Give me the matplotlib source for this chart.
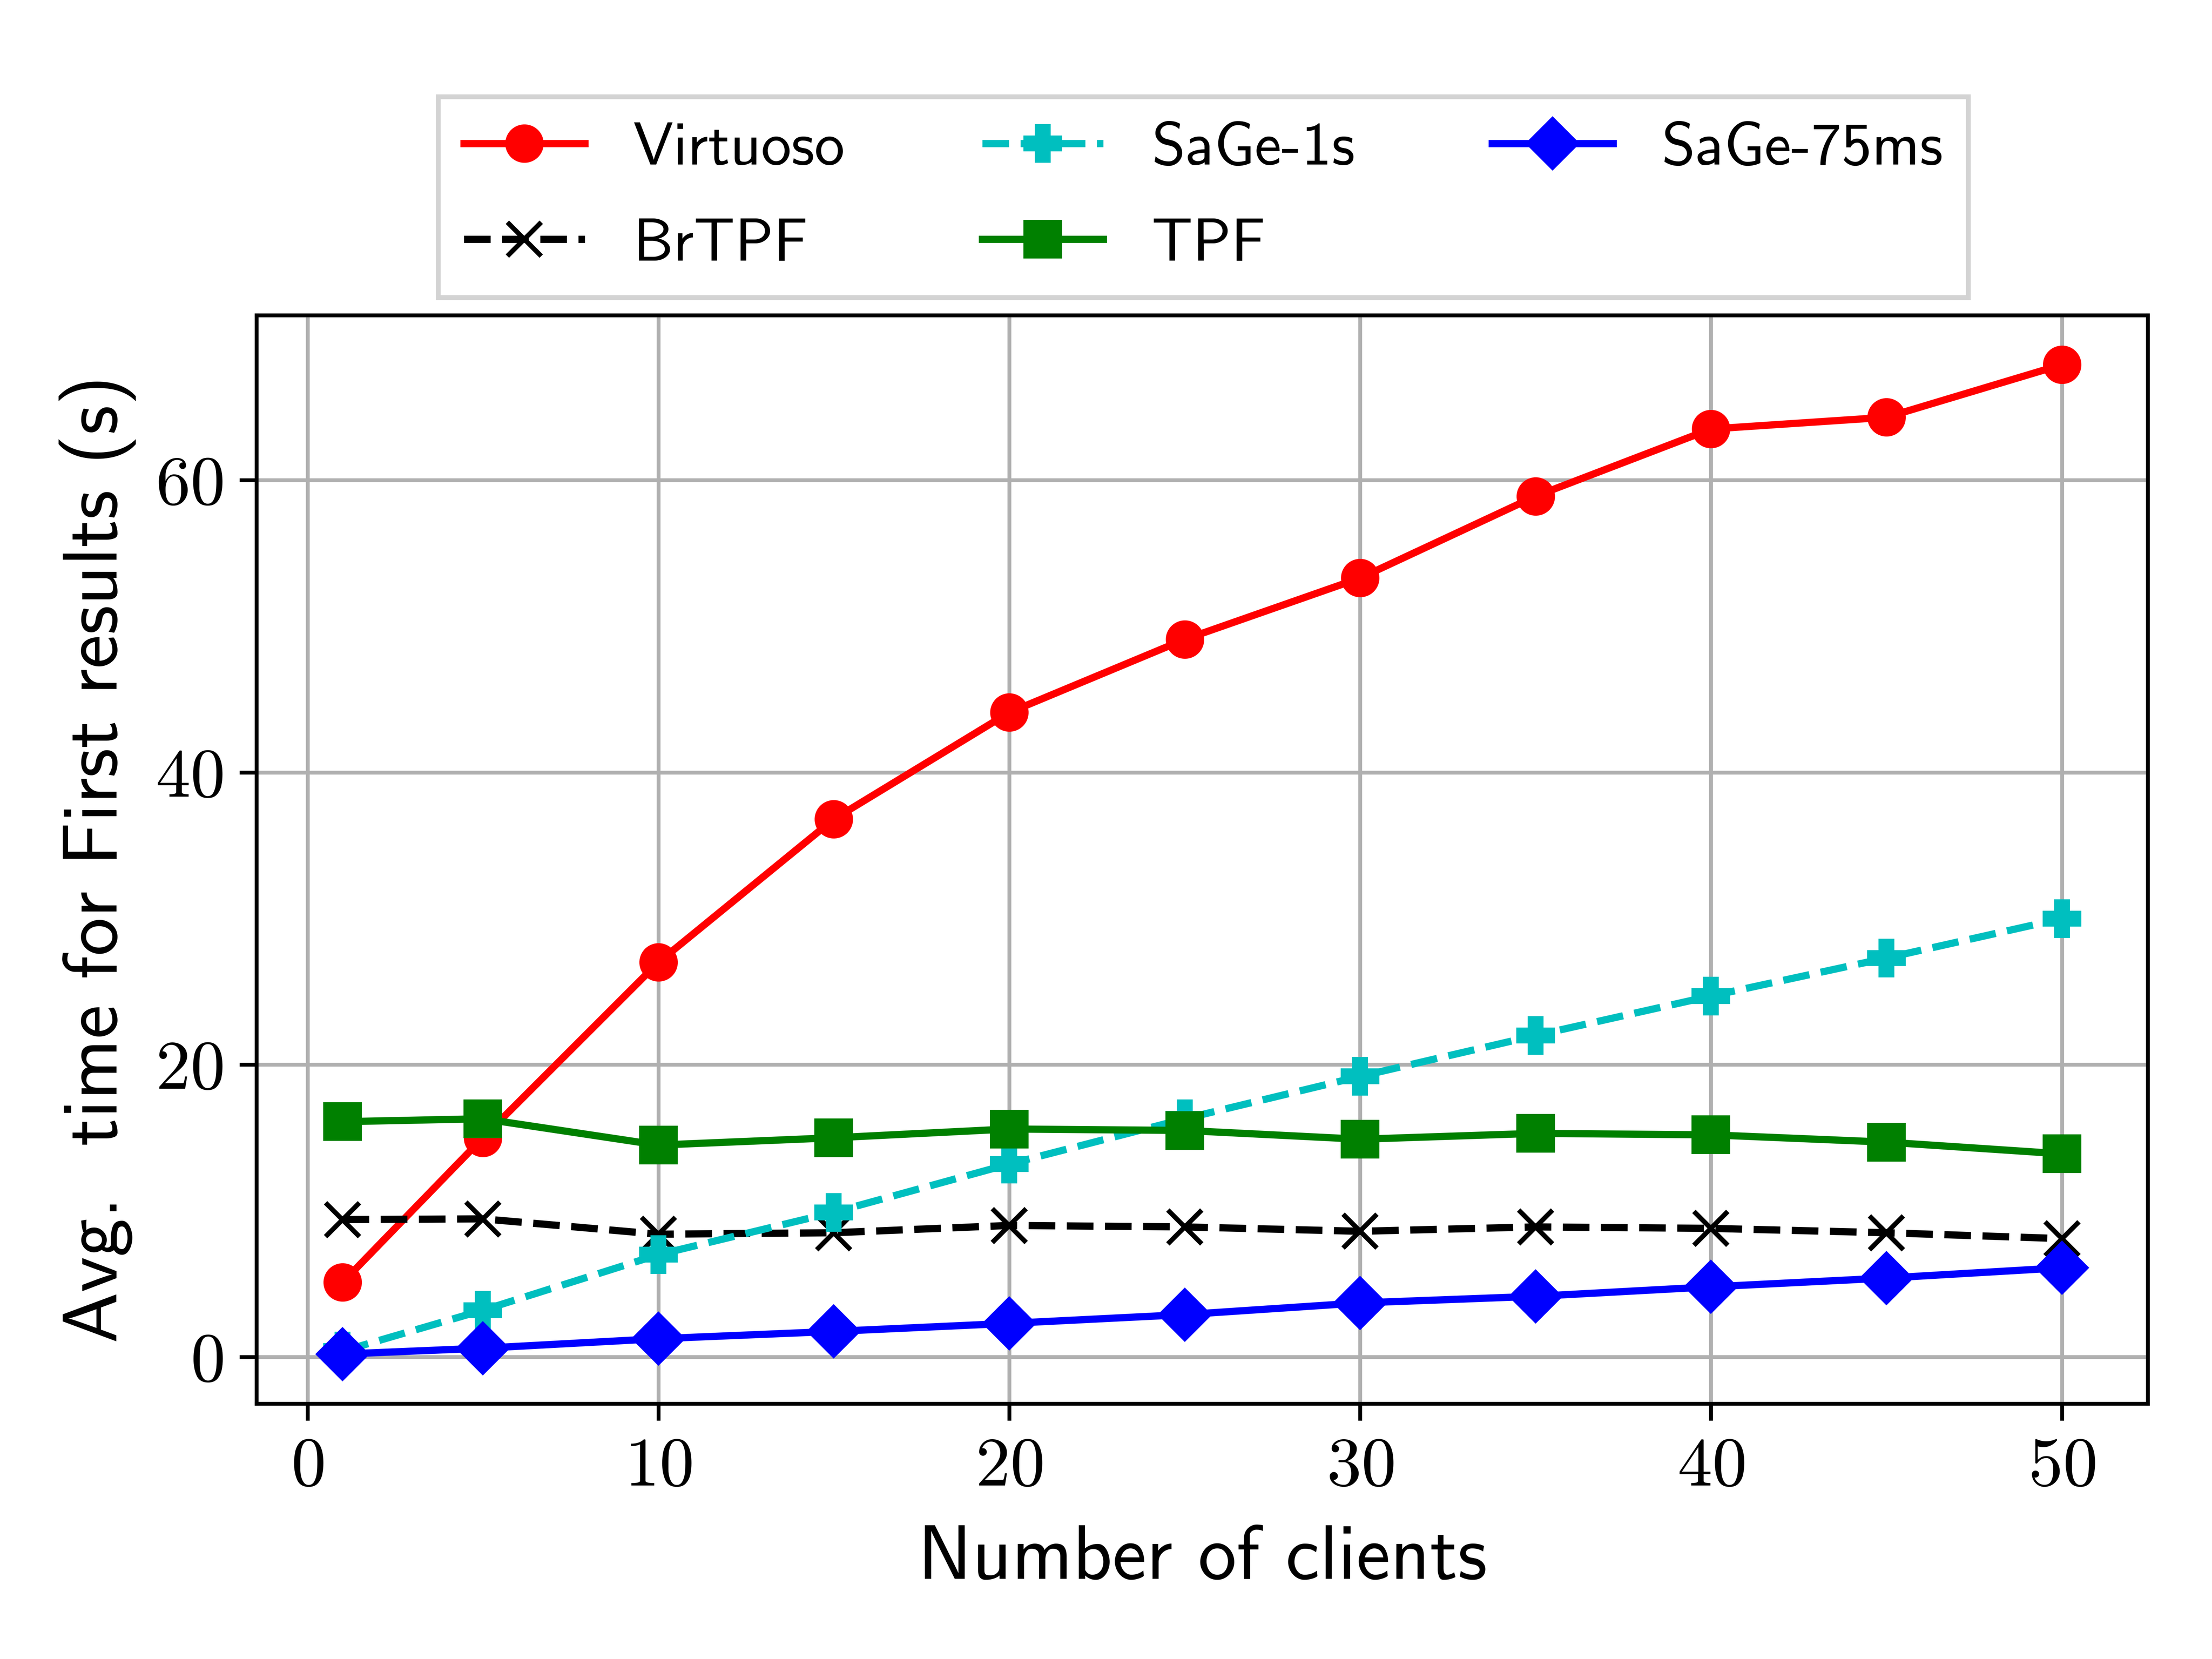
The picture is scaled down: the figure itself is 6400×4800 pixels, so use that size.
import matplotlib
matplotlib.use("Agg")
import matplotlib.pyplot as plt

plt.rcParams['mathtext.fontset'] = 'cm'
plt.rcParams['font.family'] = ['cmss10', 'DejaVu Sans']
plt.rcParams['axes.unicode_minus'] = False

clients = [1, 5, 10, 15, 20, 25, 30, 35, 40, 45, 50]
virtuoso = [5.1, 15.0, 27.0, 36.8, 44.1, 49.1, 53.3, 58.9, 63.5, 64.3, 67.9]
sage_1s = [0.4, 3.2, 7.0, 9.9, 13.2, 16.3, 19.2, 22.0, 24.7, 27.3, 30.0]
sage_75ms = [0.2, 0.6, 1.25, 1.75, 2.3, 2.9, 3.7, 4.15, 4.8, 5.4, 6.1]
brtpf = [9.4, 9.45, 8.4, 8.5, 9.0, 8.9, 8.6, 8.9, 8.8, 8.5, 8.1]
tpf = [16.1, 16.3, 14.5, 15.0, 15.6, 15.5, 14.9, 15.3, 15.2, 14.7, 13.9]

xticks = [0, 10, 20, 30, 40, 50]
yticks = [0, 20, 40, 60]

fig = plt.figure(figsize=(6.4, 4.8), dpi=1000)
ax = fig.add_axes([0.116, 0.154, 0.855, 0.656])

ms = 7
ax.plot(clients, virtuoso, 'r-', marker='o', ms=ms, lw=1.5, label='Virtuoso')
ax.plot(clients, brtpf, 'k--', marker='x', ms=ms, lw=1.5, label='BrTPF')
ax.plot(clients, sage_1s, 'c--', marker='P', ms=ms, lw=1.5, label='SaGe-1s')
ax.plot(clients, tpf, 'g-', marker='s', ms=ms, lw=1.5, label='TPF')
ax.plot(clients, sage_75ms, 'b-', marker='D', ms=ms, lw=1.5, label='SaGe-75ms')

ax.set_xticks(xticks)
ax.set_xticklabels([r'$%d$' % t for t in xticks], fontsize=14.5)
ax.set_yticks(yticks)
ax.set_yticklabels([r'$%d$' % t for t in yticks], fontsize=14.5)
ax.grid(True, color='#b0b0b0', lw=0.8)
ax.set_axisbelow(True)

ax.set_xlabel('Number of clients', fontsize=16.0, labelpad=5.5)
ax.set_ylabel('Avg.  time for First results (s)', fontsize=16.0)

leg = fig.legend(ncol=3, loc='upper center', bbox_to_anchor=(0.544, 0.9416),
                 bbox_transform=fig.transFigure, borderaxespad=0,
                 fontsize=12.6, fancybox=False, edgecolor='#d3d3d3', framealpha=1,
                 handlelength=2.0, handletextpad=0.8, columnspacing=2.27,
                 labelspacing=0.69, borderpad=0.42)

fig.savefig('out.png', dpi=1000)
